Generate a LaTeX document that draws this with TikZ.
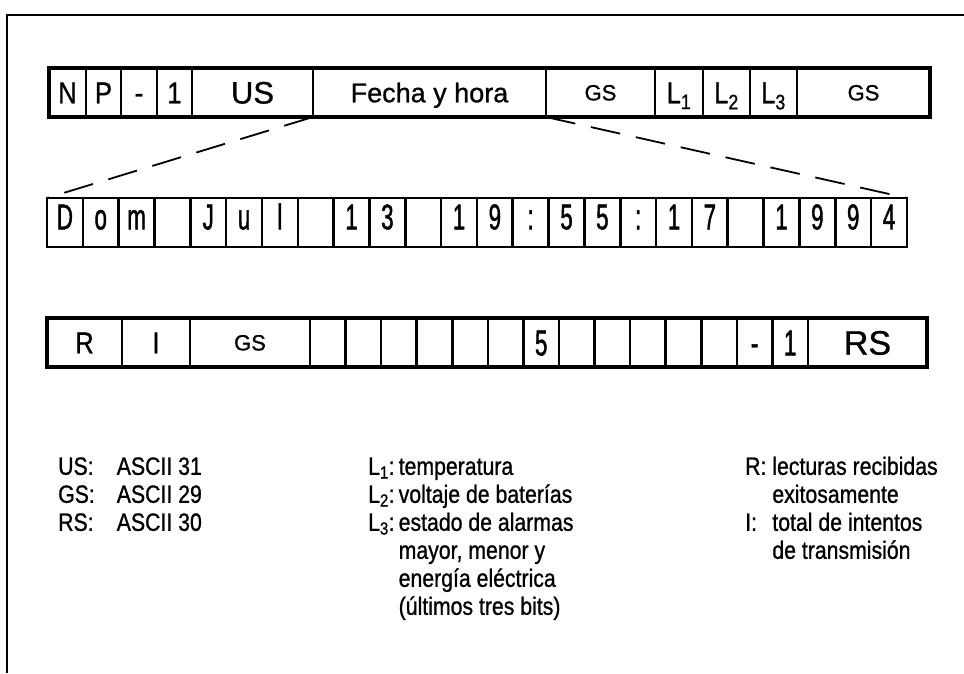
\documentclass[tikz,border=0pt]{standalone}
\usepackage{fontspec}
\setmainfont{Liberation Sans}
\newfontfamily\plainsf{Liberation Sans}[FakeBold=0.9]
\newfontfamily\cellsf{Liberation Sans}[FakeStretch=0.85, FakeBold=0.9]
\newfontfamily\narrowsf{Liberation Sans}[FakeStretch=0.62, FakeBold=1.2]
\usepackage{tikz}
\usetikzlibrary{positioning}
\tikzstyle{cell} = [rectangle, draw, line width=2.6pt, minimum height=49pt, inner sep=0pt, outer sep=0pt, text height=21.5pt, text depth=0pt, font=\cellsf\fontsize{30}{36}\selectfont]
\tikzstyle{namecell} = [cell, text height=22pt, font=\plainsf\fontsize{31}{36}\selectfont]
\tikzstyle{fechacell} = [cell, text height=19.5pt, font=\plainsf\fontsize{27}{32}\selectfont]
\tikzstyle{gscell} = [cell, text height=15.8pt, font=\plainsf\fontsize{22}{26}\selectfont]
\tikzstyle{rscell} = [cell, text height=24.3pt, font=\plainsf\fontsize{34}{40}\selectfont]
\tikzstyle{digit} = [cell, minimum width=35.83pt, text height=25.8pt, font=\narrowsf\fontsize{36}{42}\selectfont]
\tikzstyle{datecell} = [digit, text depth=12pt]
\tikzstyle{rowframe} = [line width=3.6pt]
\tikzstyle{frame} = [line width=2.6pt]
\tikzstyle{zoomline} = [line width=1.8pt, dash pattern=on 30pt off 16pt]
\tikzstyle{legend} = [anchor=north west, inner sep=0pt, font=\cellsf\fontsize{25}{28}\selectfont]

\begin{document}
\begin{tikzpicture}[x=1pt, y=-1pt]
\useasboundingbox (0,0) rectangle (964,673);
\draw[frame] (7,673) -- (7,15) -- (964,15);

% upper frame
\coordinate (top) at (49,92.5);
\node[cell, minimum width=37pt, right=0pt of top] (n) {N};
\node[cell, minimum width=35pt, right=0pt of n] (p) {P};
\node[cell, minimum width=36pt, right=0pt of p] (minus) {-};
\node[cell, minimum width=35pt, right=0pt of minus] (one) {1};
\node[namecell, minimum width=121pt, right=0pt of one] (us) {US};
\node[fechacell, minimum width=233pt, right=0pt of us] (fecha) {Fecha y hora};
\node[gscell, minimum width=109pt, right=0pt of fecha] (gsa) {GS};
\node[cell, minimum width=48pt, right=0pt of gsa] (la) {L\textsubscript{1}};
\node[cell, minimum width=47pt, right=0pt of la] (lb) {L\textsubscript{2}};
\node[cell, minimum width=47pt, right=0pt of lb] (lc) {L\textsubscript{3}};
\node[gscell, minimum width=133pt, right=0pt of lc] (gsb) {GS};
\draw[rowframe] (n.north west) rectangle (gsb.south east);

% date and time
\coordinate (m0) at (47,222.5);
\foreach \c [count=\i, remember=\i as \j (initially 0)] in {D,o,m,{},J,u,l,{},1,3,{},1,9,:,5,5,:,1,7,{},1,9,9,4}
  \node[datecell, right=0pt of m\j] (m\i) {\c};
\draw[zoomline] (us.south east) -- (m1.north west);
\draw[zoomline] (fecha.south east) -- (m24.north east);

% lower frame
\coordinate (bot) at (47,342.5);
\node[cell, minimum width=75pt, right=0pt of bot] (r) {R};
\node[cell, minimum width=68pt, right=0pt of r] (i) {I};
\node[gscell, minimum width=120pt, right=0pt of i] (gsc) {GS};
\coordinate (b0) at (gsc.east);
\foreach \c [count=\i, remember=\i as \j (initially 0)] in {{},{},{},{},{},{},5,{},{},{},{},{},-,1}
  \node[digit, minimum width=35.57pt, right=0pt of b\j] (b\i) {\c};
\node[rscell, minimum width=119pt, right=0pt of b14] (rs) {RS};
\draw[rowframe] (r.north west) rectangle (rs.south east);

% legend
\node[legend] (ascii) at (58,455) {\begin{tabular}{@{}l@{\hspace{22pt}}l@{}}
US: & ASCII 31\\ GS: & ASCII 29\\ RS: & ASCII 30\end{tabular}};
\node[legend] (lvals) at (368,455) {\begin{tabular}{@{}l@{\hspace{4pt}}l@{}}
L\textsubscript{1}: & temperatura\\ L\textsubscript{2}: & voltaje de baterías\\
L\textsubscript{3}: & estado de alarmas\\ & mayor, menor y\\ & energía eléctrica\\ & (últimos tres bits)\end{tabular}};
\node[legend] (counts) at (745,455) {\begin{tabular}{@{}l@{ }l@{}}
R: & lecturas recibidas\\ & exitosamente\\ I: & total de intentos\\ & de transmisión\end{tabular}};
\end{tikzpicture}
\end{document}
